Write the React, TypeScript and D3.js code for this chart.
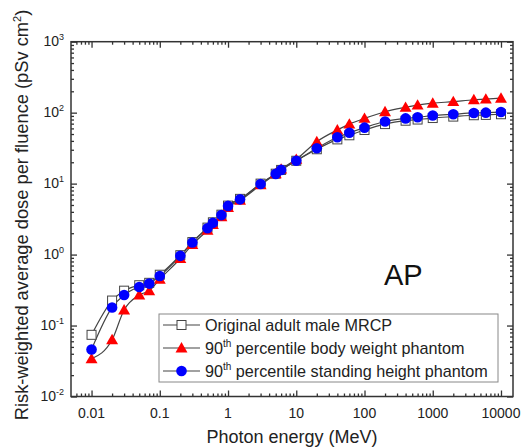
import React, { useEffect, useRef } from 'react';
import * as d3 from 'd3';

// photon energies (MeV)
const energy = [0.01, 0.02, 0.03, 0.05, 0.07, 0.1, 0.2, 0.3, 0.5, 0.6, 0.8, 1, 1.5, 3, 5, 6, 10, 20, 40, 60, 100, 200, 400, 600, 1000, 2000, 4000, 6000, 10000];

// risk-weighted average dose per fluence (pSv cm2)
const original = [0.074, 0.225, 0.31, 0.37, 0.4, 0.52, 0.98, 1.5, 2.4, 2.85, 3.65, 4.9, 6.1, 10, 13.8, 15.6, 21, 30.5, 42, 48, 57, 69, 77, 80, 84, 88, 92, 93, 95];
const bodyWeight = [0.034, 0.063, 0.166, 0.27, 0.31, 0.45, 0.88, 1.38, 2.2, 2.65, 3.4, 4.6, 5.8, 9.6, 13.8, 16, 22, 39, 57, 69, 83, 103, 119, 128, 136, 143, 152, 155, 160];
const standingHeight = [0.046, 0.18, 0.27, 0.35, 0.39, 0.5, 0.96, 1.48, 2.35, 2.8, 3.6, 4.85, 6.0, 9.9, 13.7, 15.6, 21, 31.5, 45, 52, 61.5, 75, 83, 86, 91, 95, 99, 100, 102];

const xTicks = [0.01, 0.1, 1, 10, 100, 1000, 10000];
const xTickLabels = ['0.01', '0.1', '1', '10', '100', '1000', '10000'];
const yTicks = [0.01, 0.1, 1, 10, 100, 1000];
const yTickExp = ['-2', '-1', '0', '1', '2', '3'];

const W = 521;
const H = 448;
const FONT = '"Liberation Sans", Arial, sans-serif';

const App = () => {
  const ref = useRef<SVGSVGElement | null>(null);

  useEffect(() => {
    const svg = d3.select(ref.current);
    svg.selectAll('*').remove();

    const left = 71, right = 513, top = 41.7, bottom = 396.5;

    const x = d3.scaleLog().domain([0.005, 15000]).range([left, right]);
    const y = d3.scaleLog().domain([0.01, 1000]).range([bottom, top]);

    const minorX: number[] = [];
    for (let p = -3; p <= 4; p++) for (let m = 2; m <= 9; m++) {
      const v = m * Math.pow(10, p);
      if (v > 0.005 && v < 15000) minorX.push(v);
    }
    const minorY: number[] = [];
    for (let p = -2; p <= 2; p++) for (let m = 2; m <= 9; m++) minorY.push(m * Math.pow(10, p));

    const tickColor = '#333';
    const drawTicks = (axis: any, vals: number[], size: number, tr: string) => {
      const g = svg.append('g')
        .attr('transform', tr)
        .call(axis.tickValues(vals).tickSize(size).tickFormat(() => ''));
      g.select('.domain').remove();
      g.selectAll('line').attr('stroke', tickColor).attr('stroke-width', 1.3);
    };

    // ticks pointing inward on all four sides
    drawTicks(d3.axisBottom(x), xTicks, -6, `translate(0,${bottom})`);
    drawTicks(d3.axisBottom(x), minorX, -3, `translate(0,${bottom})`);
    drawTicks(d3.axisTop(x), xTicks, -6, `translate(0,${top})`);
    drawTicks(d3.axisTop(x), minorX, -3, `translate(0,${top})`);
    drawTicks(d3.axisLeft(y), yTicks, -6, `translate(${left},0)`);
    drawTicks(d3.axisLeft(y), minorY, -3, `translate(${left},0)`);
    drawTicks(d3.axisRight(y), yTicks, -6, `translate(${right},0)`);
    drawTicks(d3.axisRight(y), minorY, -3, `translate(${right},0)`);

    svg.append('rect')
      .attr('x', left).attr('y', top)
      .attr('width', right - left).attr('height', bottom - top)
      .attr('fill', 'none').attr('stroke', tickColor).attr('stroke-width', 1.5);

    // tick labels
    xTicks.forEach((t, i) => {
      svg.append('text')
        .attr('x', x(t)).attr('y', bottom + 21)
        .attr('text-anchor', 'middle')
        .attr('font-family', FONT).attr('font-size', 14).attr('fill', '#222')
        .text(xTickLabels[i]);
    });
    yTicks.forEach((t, i) => {
      const txt = svg.append('text')
        .attr('x', left - 7).attr('y', y(t) + 4)
        .attr('text-anchor', 'end')
        .attr('font-family', FONT).attr('font-size', 14).attr('fill', '#222');
      txt.append('tspan').text('10');
      txt.append('tspan').attr('font-size', 9).attr('dy', -6).text(yTickExp[i]);
    });

    // axis titles
    const yl = svg.append('text')
      .attr('transform', `translate(28,215) rotate(-90)`)
      .attr('text-anchor', 'middle')
      .attr('font-family', FONT).attr('font-size', 18.3).attr('fill', '#222');
    yl.append('tspan').text('Risk-weighted average dose per fluence (pSv cm');
    yl.append('tspan').attr('font-size', 11).attr('dy', -7).text('2');
    yl.append('tspan').attr('dy', 7).text(')');

    svg.append('text')
      .attr('x', (left + right) / 2).attr('y', 443)
      .attr('text-anchor', 'middle')
      .attr('font-family', FONT).attr('font-size', 18).attr('fill', '#222')
      .text('Photon energy (MeV)');

    svg.append('text')
      .attr('x', 384).attr('y', 285)
      .attr('font-family', FONT).attr('font-size', 29).attr('fill', '#111')
      .text('AP');

    // lines
    const line = d3.line<number>()
      .x((d, i) => x(energy[i]))
      .y(d => y(d))
      .curve(d3.curveMonotoneX);

    [original, bodyWeight, standingHeight].forEach(s => {
      svg.append('path')
        .datum(s)
        .attr('fill', 'none')
        .attr('stroke', '#444')
        .attr('stroke-width', 1.2)
        .attr('d', line);
    });

    const tri = d3.symbol().type(d3.symbolTriangle).size(62);

    const drawSquare = (g: any, cx: number, cy: number) => g.append('rect')
      .attr('x', cx - 4.5).attr('y', cy - 4.5).attr('width', 9).attr('height', 9)
      .attr('fill', 'white').attr('stroke', '#444').attr('stroke-width', 1);
    const drawTri = (g: any, cx: number, cy: number) => g.append('path')
      .attr('d', tri()).attr('transform', `translate(${cx},${cy + 1})`)
      .attr('fill', '#ff0000');
    const drawCircle = (g: any, cx: number, cy: number) => g.append('circle')
      .attr('cx', cx).attr('cy', cy).attr('r', 5.3)
      .attr('fill', '#0000ff');

    const marks = svg.append('g');
    original.forEach((v, i) => drawSquare(marks, x(energy[i]), y(v)));
    bodyWeight.forEach((v, i) => drawTri(marks, x(energy[i]), y(v)));
    standingHeight.forEach((v, i) => drawCircle(marks, x(energy[i]), y(v)));

    // legend
    const lg = svg.append('g');
    lg.append('rect')
      .attr('x', 159).attr('y', 314).attr('width', 339).attr('height', 68)
      .attr('fill', 'white').attr('stroke', '#888').attr('stroke-width', 1);

    const items = [
      { draw: drawSquare, main: 'Original adult male MRCP', sup: '', rest: '' },
      { draw: drawTri, main: '90', sup: 'th', rest: ' percentile body weight phantom' },
      { draw: drawCircle, main: '90', sup: 'th', rest: ' percentile standing height phantom' },
    ];
    items.forEach((it, i) => {
      const ry = 325 + i * 23;
      lg.append('line')
        .attr('x1', 163).attr('x2', 200).attr('y1', ry).attr('y2', ry)
        .attr('stroke', '#444').attr('stroke-width', 1.2);
      it.draw(lg, 181.5, ry);
      const t = lg.append('text')
        .attr('x', 205).attr('y', ry + 5.5)
        .attr('font-family', FONT).attr('font-size', 16.2).attr('fill', '#222');
      t.append('tspan').text(it.main);
      if (it.sup) {
        t.append('tspan').attr('font-size', 10).attr('dy', -7).text(it.sup);
        t.append('tspan').attr('dy', 7).text(it.rest);
      }
    });
  }, []);

  return (
    <svg
      ref={ref}
      width={W}
      height={H}
      style={{ position: 'absolute', left: 0, top: 0, background: 'white' }}
    />
  );
};

export default App;
